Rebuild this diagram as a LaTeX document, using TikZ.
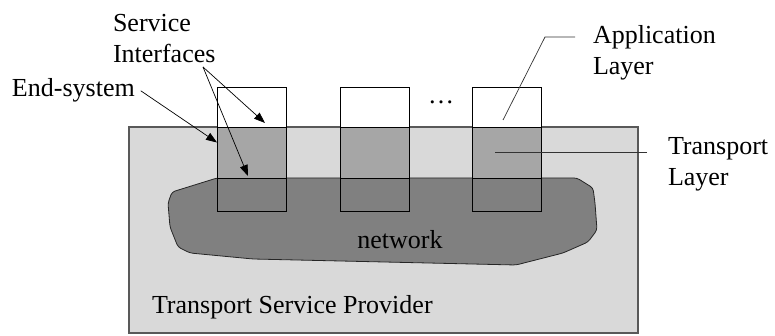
\documentclass[tikz,border=0pt]{standalone}
\usepackage{fontspec}
\setmainfont{Liberation Serif}
\usetikzlibrary{positioning,arrows.meta}

\definecolor{providergray}{gray}{0.85}
\definecolor{layergray}{gray}{0.65}
\definecolor{netgray}{gray}{0.5}

\begin{document}
\begin{tikzpicture}[x=1pt, y=-1pt,
  every node/.style={font=\fontsize{26}{31}\selectfont, inner sep=0pt, outer sep=0pt},
  layerbox/.style={draw=black, line width=0.8pt, minimum width=69pt},
  applayer/.style={layerbox, fill=white, minimum height=40pt},
  translayer/.style={layerbox, fill=layergray, minimum height=51pt},
  netlayer/.style={layerbox, minimum height=33pt},
  pointer/.style={line width=0.7pt, -{Triangle[length=11pt,width=8pt]}},
  leader/.style={line width=0.7pt, draw=black!80}]
\useasboundingbox (0,0) rectangle (775,336);

% transport service provider
\draw[fill=providergray, draw=black!65, line width=1.2pt] (129,127) rectangle (638,333);
\node[anchor=base west] (tsp) at (152,313) {Transport Service Provider};

% network cloud
\draw[fill=netgray, draw=black!85, line width=0.8pt, rounded corners=3pt]
  (217,178) -- (577,178) -- (593,188) -- (595,203) -- (597,230) -- (588,242)
  -- (563,253) -- (516,265) -- (253,259) -- (190,253) -- (178,247)
  -- (170,227) -- (168,203) -- (172,192) -- cycle;
\node[anchor=base] (net) at (400,248) {network};

% end-systems
\foreach \n/\x in {1/251.5, 2/375, 3/507} {
  \node[applayer] (app\n) at (\x,107) {};
  \node[translayer, below=0pt of app\n] (tl\n) {};
  \node[netlayer, below=0pt of tl\n] (nl\n) {};
}
\node[anchor=base] (dots) at (441,104) {\ldots};

% labels
\node[anchor=base west] (es) at (12,97) {End-system};
\node[anchor=north west, align=left] (si) at (113,14) {Service\\Interfaces};
\node[anchor=north west, align=left] (al) at (593,25) {Application\\Layer};
\node[anchor=north west, align=left] (tl) at (668,137.5) {Transport\\Layer};

\coordinate (estip) at ([shift={(0,-10)}]tl1.west);
\coordinate (sitail) at (203,67);
\coordinate (sitip1) at ([shift={(-21,-4)}]app1.south east);
\coordinate (sitip2) at ([shift={(-3.5,-2)}]tl1.south);
\coordinate (albend) at (545,37);
\coordinate (alend) at ([shift={(-4,-7)}]app3.south);
\coordinate (tlend) at ([xshift=-12pt]tl3.center);

\draw[pointer] ([xshift=6pt]es.east) -- (estip);
\draw[pointer] (sitail) -- (sitip1);
\draw[pointer] (sitail) -- (sitip2);
\draw[leader] ([xshift=-18pt]al.west |- albend) -- (albend) -- (alend);
\draw[leader] ([xshift=-21pt]tl.west |- tlend) -- (tlend);
\end{tikzpicture}
\end{document}
